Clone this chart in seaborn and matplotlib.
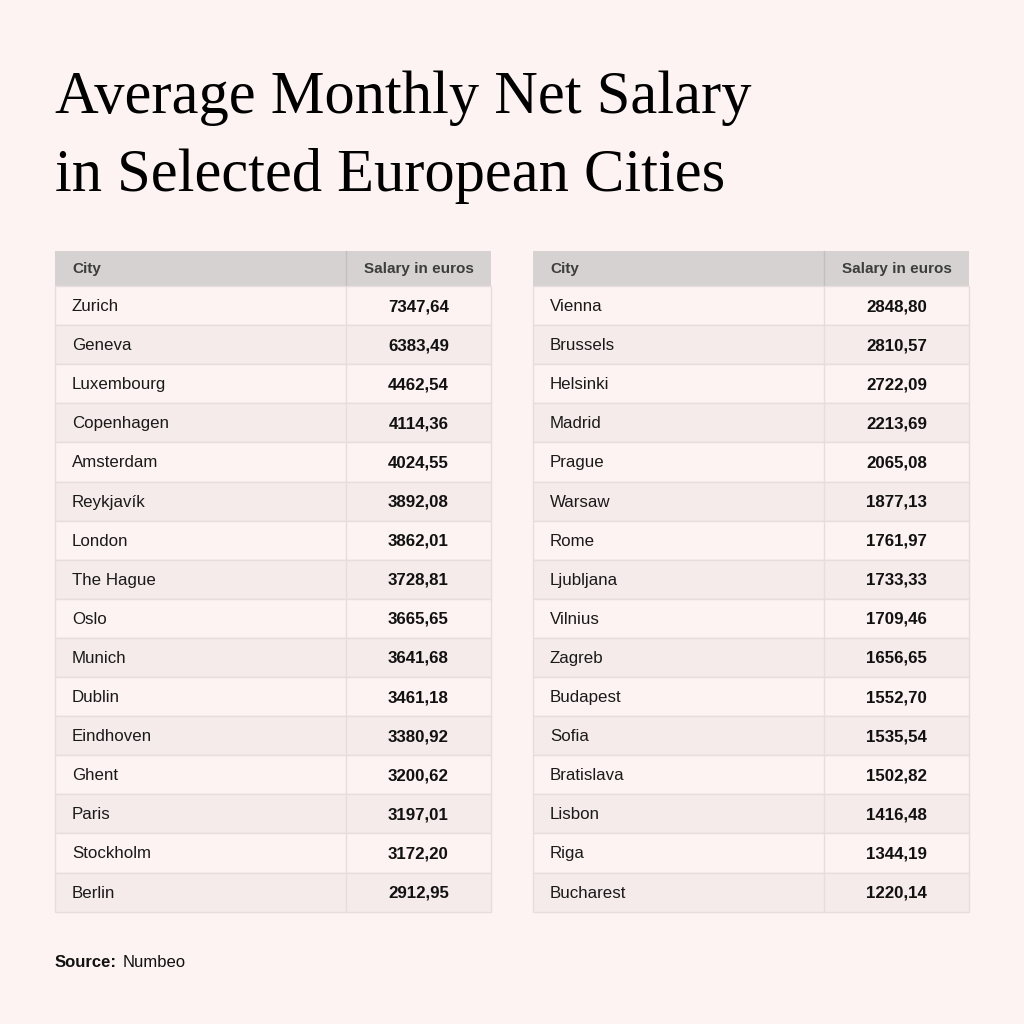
import numpy as np
import seaborn as sns
import matplotlib.pyplot as plt
from matplotlib.patches import Rectangle

# table data
left_cities = ['Zurich', 'Geneva', 'Luxembourg', 'Copenhagen', 'Amsterdam', 'Reykjavík',
               'London', 'The Hague', 'Oslo', 'Munich', 'Dublin', 'Eindhoven', 'Ghent',
               'Paris', 'Stockholm', 'Berlin']
left_salary = [7347.64, 6383.49, 4462.54, 4114.36, 4024.55, 3892.08, 3862.01, 3728.81,
               3665.65, 3641.68, 3461.18, 3380.92, 3200.62, 3197.01, 3172.20, 2912.95]
right_cities = ['Vienna', 'Brussels', 'Helsinki', 'Madrid', 'Prague', 'Warsaw', 'Rome',
                'Ljubljana', 'Vilnius', 'Zagreb', 'Budapest', 'Sofia', 'Bratislava',
                'Lisbon', 'Riga', 'Bucharest']
right_salary = [2848.80, 2810.57, 2722.09, 2213.69, 2065.08, 1877.13, 1761.97, 1733.33,
                1709.46, 1656.65, 1552.70, 1535.54, 1502.82, 1416.48, 1344.19, 1220.14]
col_headers = ['City', 'Salary in euros']

BG = '#fdf3f2'
HEAD = '#d5d2d1'
ODD = '#fdf3f2'
EVEN = '#f5ebea'
GRID = '#e6dddc'

sns.set_theme(style='white', rc={'figure.facecolor': BG, 'axes.facecolor': BG})
plt.rcParams['font.family'] = ['Liberation Sans', 'DejaVu Sans']

fig = plt.figure(figsize=(10.24, 10.24), dpi=100)
ax = fig.add_axes([0, 0, 1, 1])
ax.set_xlim(0, 1024)
ax.set_ylim(1024, 0)
ax.axis('off')

# title
ax.text(55, 113, 'Average Monthly Net Salary', family='Liberation Serif',
        fontsize=43.6, color='black', va='baseline', ha='left')
ax.text(55, 191, 'in Selected European Cities', family='Liberation Serif',
        fontsize=43.6, color='black', va='baseline', ha='left')

top = 251
head_h = 35
row_h = 39.1
w1 = 291
w2 = 145


def draw_table(x0, cities, salary):
    # header
    ax.add_patch(Rectangle((x0, top), w1 + w2, head_h, facecolor=HEAD, edgecolor='none'))
    ax.plot([x0 + w1, x0 + w1], [top, top + head_h], color='#c4bfbe', lw=1)
    ax.text(x0 + 17, top + head_h / 2 + 4.5, col_headers[0], fontsize=11, fontweight='bold',
            color='#3d3d3d', va='baseline', ha='left')
    ax.text(x0 + w1 + w2 / 2, top + head_h / 2 + 4.5, col_headers[1], fontsize=11,
            fontweight='bold', color='#3d3d3d', va='baseline', ha='center')
    y = top + head_h
    for i, (c, s) in enumerate(zip(cities, salary)):
        ax.add_patch(Rectangle((x0, y), w1 + w2, row_h, facecolor=ODD if i % 2 == 0 else EVEN,
                               edgecolor=GRID, lw=1))
        ax.text(x0 + 17, y + row_h / 2 + 5.5, c, fontsize=12.2, color='#1a1a1a',
                va='baseline', ha='left')
        ax.text(x0 + w1 + w2 / 2, y + row_h / 2 + 5.5, f'{s:.2f}'.replace('.', ','),
                fontsize=12.2, fontweight='bold', color='#111111', va='baseline', ha='center')
        y += row_h
    ax.plot([x0 + w1, x0 + w1], [top + head_h, y], color=GRID, lw=1)


draw_table(55, left_cities, left_salary)
draw_table(533, right_cities, right_salary)

ax.text(55, 967, 'Source:', fontsize=12, fontweight='bold', color='#111111', va='baseline')
ax.text(123, 967, 'Numbeo', fontsize=12, color='#111111', va='baseline')

fig.savefig('out.png', dpi=100, facecolor=BG)
